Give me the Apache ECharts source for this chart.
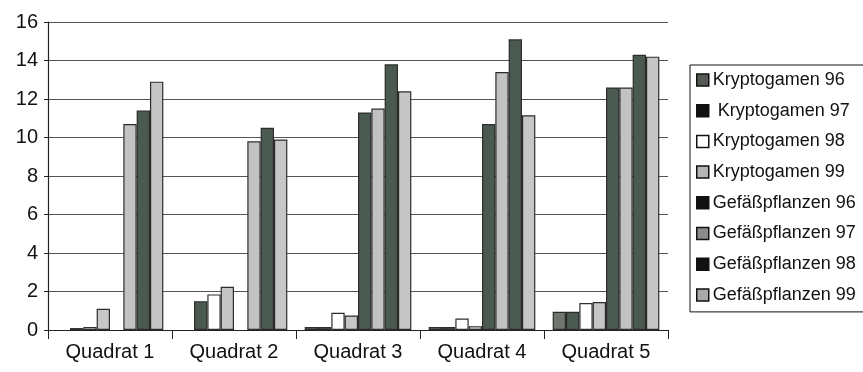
<!DOCTYPE html>
<html>
<head>
<meta charset="utf-8">
<script src="https://cdn.jsdelivr.net/npm/echarts@6/dist/echarts.min.js"></script>
<style>
  html, body { margin: 0; padding: 0; background: #fff; }
  #chart { width: 863px; height: 372px; }
</style>
</head>
<body>
<div id="chart"></div>
<script>
// Values, one array per series.
var categories = ["Quadrat 1", "Quadrat 2", "Quadrat 3", "Quadrat 4", "Quadrat 5"];

var kryptogamen96 = ["-", "-", 0.15, 0.15, 0.95];
var kryptogamen97 = [0.1, 1.5, 0.15, 0.15, 0.95];
var kryptogamen98 = [0.15, 1.85, 0.9, 0.6, 1.4];
var kryptogamen99 = [1.1, 2.25, 0.75, 0.2, 1.45];
var gefaess96 = ["-", "-", 11.3, 10.7, 12.6];
var gefaess97 = [10.7, 9.8, 11.5, 13.4, 12.6];
var gefaess98 = [11.4, 10.5, 13.8, 15.1, 14.3];
var gefaess99 = [12.9, 9.9, 12.4, 11.15, 14.2];

var yTicks = [0, 2, 4, 6, 8, 10, 12, 14, 16];

var FONT = "Liberation Sans, Arial, sans-serif";

// fill of the bar, fill of the legend swatch
var looks = [
  { name: "Kryptogamen 96", data: kryptogamen96, bar: "#6f756f", icon: "#555a55" },
  { name: " Kryptogamen 97", data: kryptogamen97, bar: "#4b5a50", icon: "#111" },
  { name: "Kryptogamen 98", data: kryptogamen98, bar: "#ffffff", icon: "#ffffff" },
  { name: "Kryptogamen 99", data: kryptogamen99, bar: "#c6c6c6", icon: "#b5b5b5" },
  { name: "Gefäßpflanzen 96", data: gefaess96, bar: "#4b5a50", icon: "#111" },
  { name: "Gefäßpflanzen 97", data: gefaess97, bar: "#c2c2c2", icon: "#8a8a8a" },
  { name: "Gefäßpflanzen 98", data: gefaess98, bar: "#4b5a50", icon: "#111" },
  { name: "Gefäßpflanzen 99", data: gefaess99, bar: "#c6c6c6", icon: "#a9a9a9" }
];

var series = looks.map(function (s) {
  return {
    name: s.name,
    type: "bar",
    data: s.data,
    barGap: "0%",
    barCategoryGap: "14%",
    itemStyle: { color: s.bar, borderColor: "#2c2c2c", borderWidth: 1.2 }
  };
});

var chart = echarts.init(document.getElementById("chart"));
chart.setOption({
  animation: false,
  backgroundColor: "#fff",
  grid: { left: 48, right: 195, top: 22, bottom: 42 },
  legend: {
    orient: "vertical",
    left: 690,
    top: 65,
    width: 200,
    padding: [6, 40, 8, 6],
    borderColor: "#111",
    borderWidth: 1,
    backgroundColor: "#fff",
    itemWidth: 12,
    itemHeight: 12,
    itemGap: 12.7,
    icon: "rect",
    textStyle: { fontFamily: FONT, fontSize: 18, color: "#111", padding: [0, 0, 0, -1] },
    data: looks.map(function (s) {
      return {
        name: s.name,
        itemStyle: { color: s.icon, borderColor: "#111", borderWidth: 1.5 }
      };
    })
  },
  xAxis: {
    type: "category",
    data: categories,
    axisLine: { lineStyle: { color: "#222", width: 1.2 } },
    axisTick: { show: true, length: 9, inside: false, lineStyle: { color: "#222" } },
    axisLabel: { fontFamily: FONT, fontSize: 20, color: "#111", margin: 12 }
  },
  yAxis: {
    type: "value",
    min: yTicks[0],
    max: yTicks[yTicks.length - 1],
    interval: 2,
    axisLine: { show: true, lineStyle: { color: "#222", width: 1.2 } },
    axisTick: { show: true, length: 4, lineStyle: { color: "#222" } },
    axisLabel: { fontFamily: FONT, fontSize: 20, color: "#111", margin: 10 },
    splitLine: { lineStyle: { color: "#555", width: 1 } }
  },
  series: series
});
</script>
</body>
</html>
